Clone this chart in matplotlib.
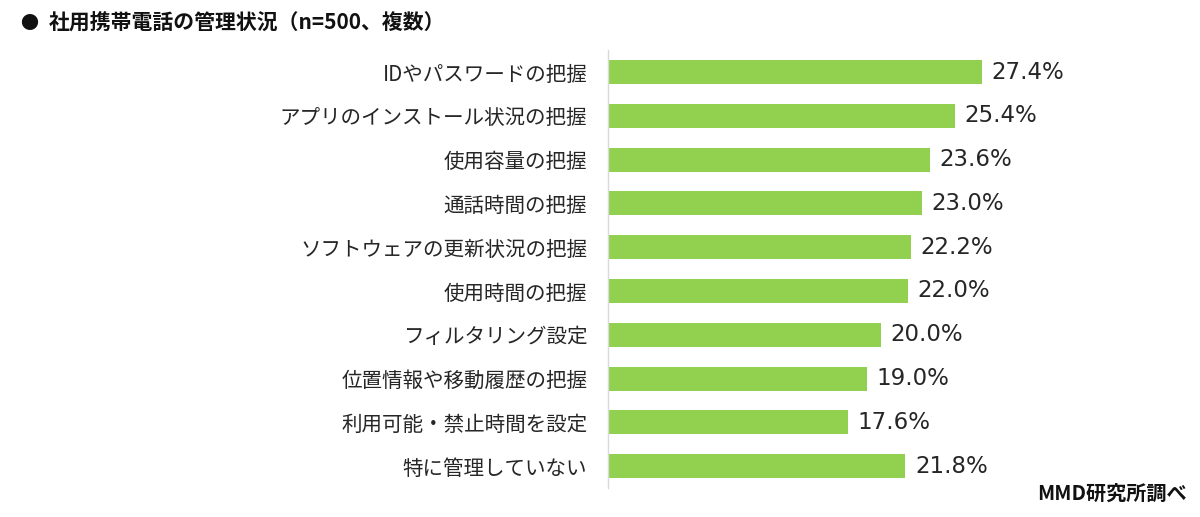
""" 社用携帯電話の管理状況 """

import matplotlib.pyplot

matplotlib.pyplot.rcParams["font.family"] = ["Noto Sans CJK JP", "DejaVu Sans"]

CATEGORIES = [
    "IDやパスワードの把握",
    "アプリのインストール状況の把握",
    "使用容量の把握",
    "通話時間の把握",
    "ソフトウェアの更新状況の把握",
    "使用時間の把握",
    "フィルタリング設定",
    "位置情報や移動履歴の把握",
    "利用可能・禁止時間を設定",
    "特に管理していない",
]
VALUES = [27.4, 25.4, 23.6, 23.0, 22.2, 22.0, 20.0, 19.0, 17.6, 21.8]

TITLE = "社用携帯電話の管理状況（n=500、複数）"
SOURCE = "MMD研究所調べ"


def plot_chart():
    fig = matplotlib.pyplot.figure(figsize=(12, 5.17), dpi=100)
    ax = fig.add_axes([0.5067, 0.056, 0.443, 0.847])

    indexes = range(len(CATEGORIES))
    bars = ax.barh(indexes, VALUES, height=0.55, color="#92D050")

    # value labels right of the bars
    for bar, value in zip(bars, VALUES):
        ax.text(bar.get_width() + 0.7, bar.get_y() + bar.get_height() / 2,
            "{:.1f}%".format(value), va="center", ha="left",
            fontsize=16.5, family="DejaVu Sans", color="#262626")

    ax.set_ylim(9.5, -0.5)
    ax.set_xlim(0, 38.97)
    ax.set_yticks(list(indexes))
    ax.set_yticklabels(CATEGORIES, fontsize=14.8, color="#262626")
    ax.tick_params(axis="y", length=0, pad=15)
    ax.set_xticks([])

    for side in ["top", "right", "bottom"]:
        ax.spines[side].set_visible(False)
    ax.spines["left"].set_color("#d9d9d9")
    ax.spines["left"].set_linewidth(1.0)

    # title and source
    fig.text(0.017, 0.955, "●", fontsize=13, fontweight="bold", va="center", color="#111111")
    fig.text(0.041, 0.955, TITLE, fontsize=15, fontweight="bold", va="center", color="#111111")
    fig.text(0.989, 0.045, SOURCE, fontsize=14.5, fontweight="bold", va="center", ha="right", color="#111111")

    matplotlib.pyplot.savefig("out.png", dpi=100)
    matplotlib.pyplot.close()


if __name__ == "__main__":
    plot_chart()
